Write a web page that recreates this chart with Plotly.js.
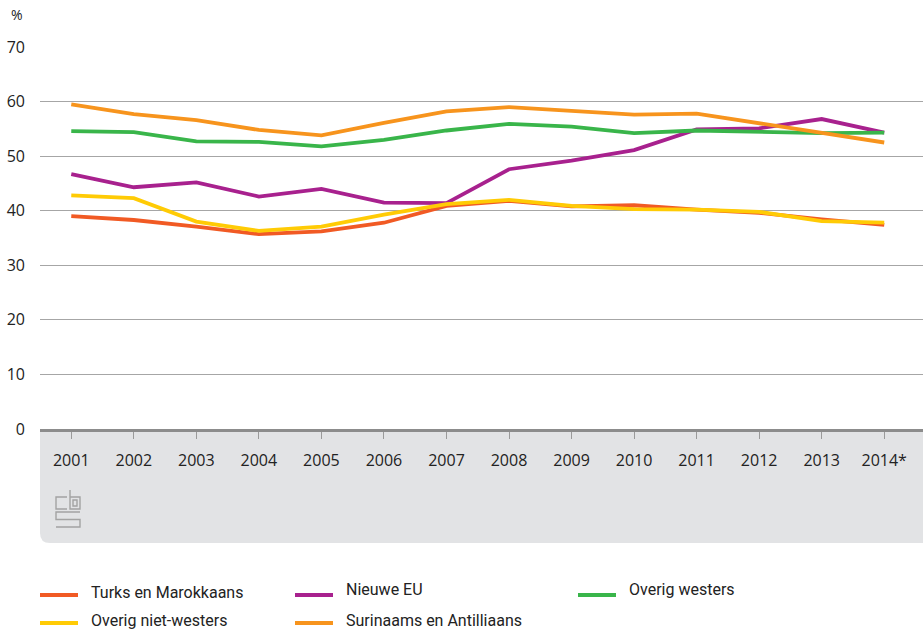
<!DOCTYPE html>
<html lang="nl">
<head>
<meta charset="UTF-8">
<title>Percentage per herkomstgroep</title>
<script src="https://cdn.plot.ly/plotly-3.0.1.min.js"></script>
<style>
  body { margin: 0; background: white; }
  #plot { width: 923px; height: 631px; }
</style>
</head>
<body>
<div id="plot"></div>
<script>
const years = ['2001', '2002', '2003', '2004', '2005', '2006', '2007', '2008', '2009', '2010', '2011', '2012', '2013', '2014*'];

const turksMarokkaans = [39.0, 38.3, 37.1, 35.7, 36.2, 37.8, 40.9, 41.8, 40.8, 41.0, 40.2, 39.6, 38.4, 37.4];
const nieuweEU = [46.7, 44.3, 45.2, 42.6, 44.0, 41.5, 41.4, 47.6, 49.2, 51.1, 54.9, 55.1, 56.8, 54.3];
const overigWesters = [54.6, 54.4, 52.7, 52.6, 51.8, 53.0, 54.7, 55.9, 55.4, 54.2, 54.7, 54.5, 54.2, 54.3];
const overigNietWesters = [42.8, 42.3, 38.0, 36.3, 37.1, 39.3, 41.2, 42.0, 40.9, 40.3, 40.2, 39.8, 38.1, 37.8];
const surinaamsAntilliaans = [59.5, 57.7, 56.6, 54.8, 53.8, 56.1, 58.2, 59.0, 58.3, 57.6, 57.8, 56.0, 54.2, 52.5];

// plot area in pixels
const L = 40, T = 47, W = 883, H = 382;
const px = (x) => (x - L) / W;
const py = (y) => (T + H - y) / H;
// "M x,y L x,y ..." in pixels -> paper coordinates
function path(str) {
    return str.replace(/(-?[\d.]+),(-?[\d.]+)/g, (m, x, y) => px(+x) + ',' + py(+y));
}

const series = [
    {name: 'Turks en Marokkaans', y: turksMarokkaans, color: '#f15a24'},
    {name: 'Nieuwe EU', y: nieuweEU, color: '#a8218e'},
    {name: 'Overig westers', y: overigWesters, color: '#39b54a'},
    {name: 'Overig niet-westers', y: overigNietWesters, color: '#ffcb05'},
    {name: 'Surinaams en Antilliaans', y: surinaamsAntilliaans, color: '#f7941d'}
];

const traces = series.map(s => ({
    x: years, y: s.y, type: 'scatter', mode: 'lines', name: s.name,
    line: {color: s.color, width: 3.8},
    hovertemplate: '%{x}: %{y:.1f}%<extra>' + s.name + '</extra>'
}));

// legend drawn by hand: [swatch x, text x, swatch y, text y]
const legendPos = [
    [40, 89, 595, 592],
    [295, 344, 595, 589],
    [578, 627, 595, 589],
    [40, 89, 623, 620],
    [295, 344, 623, 620]
];

const shapes = [
    {
        type: 'path', xref: 'paper', yref: 'paper', layer: 'below',
        fillcolor: '#e2e3e5', line: {width: 0},
        path: path('M 40,429 L 923,429 L 923,543 L 50,543 Q 40,543 40,533 Z')
    }
];
const annotations = [{
    text: '%', xref: 'paper', yref: 'paper', x: px(9), y: py(15),
    xanchor: 'left', yanchor: 'middle', showarrow: false,
    font: {size: 14, color: '#222'}
}];

series.forEach((s, i) => {
    const p = legendPos[i];
    shapes.push({
        type: 'line', xref: 'paper', yref: 'paper',
        x0: px(p[0]), x1: px(p[0] + 38), y0: py(p[2]), y1: py(p[2]),
        line: {color: s.color, width: 4}
    });
    annotations.push({
        text: s.name, xref: 'paper', yref: 'paper', x: px(p[1]), y: py(p[3]),
        xanchor: 'left', yanchor: 'middle', showarrow: false,
        font: {family: 'Roboto, sans-serif', size: 16, color: '#222'}
    });
});

// cbs logo
const logoLine = {color: '#a3a3a3', width: 1.4};
['M 67,497 L 56,497 L 56,509 L 67,509',
 'M 70,490 L 70,509 L 80,509 L 80,497 L 70,497',
 'M 73,500 L 77,500 L 77,506 L 73,506 Z',
 'M 80,512 L 56,512 L 56,519.5 L 80,519.5 L 80,527 L 56,527'
].forEach(d => shapes.push({type: 'path', xref: 'paper', yref: 'paper', path: path(d), line: logoLine}));

const layout = {
    width: 923, height: 631,
    margin: {l: L, r: 0, t: T, b: 631 - T - H},
    paper_bgcolor: 'white',
    plot_bgcolor: 'white',
    font: {family: 'Open Sans, sans-serif', size: 16, color: '#222'},
    showlegend: false,
    xaxis: {
        type: 'category', range: [-0.5, 13.62], fixedrange: true,
        showgrid: false, showline: true, linecolor: '#8c8c8c', linewidth: 3,
        ticks: 'outside', ticklen: 7, tickcolor: '#9a9a9a', tickwidth: 1,
        ticklabelstandoff: 8,
        tickfont: {size: 16, color: '#222'}
    },
    yaxis: {
        range: [0, 70], dtick: 10, fixedrange: true,
        showgrid: true, gridcolor: '#a6a6a6', gridwidth: 1.2,
        zeroline: false, showline: false,
        ticklabelstandoff: 14,
        tickfont: {size: 16, color: '#222'}
    },
    annotations: annotations,
    shapes: shapes
};

Plotly.newPlot('plot', traces, layout, {displayModeBar: false});
</script>
</body>
</html>
